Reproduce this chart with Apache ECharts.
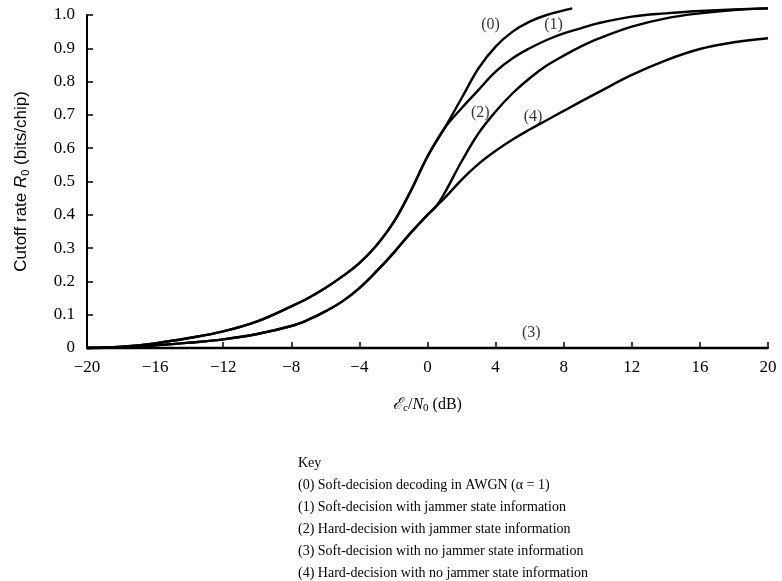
<!DOCTYPE html>
<html>
<head>
<meta charset="utf-8">
<script src="https://cdn.jsdelivr.net/npm/echarts@6/dist/echarts.min.js"></script>
<style>html,body{margin:0;padding:0;background:#fff}#c{width:782px;height:581px}</style>
</head>
<body>
<div id="c"></div>
<script>
// Shared rising part of curves (0) and (1)
var xUpper = [-20,-18,-16,-14,-12,-10,-8,-7,-6,-5,-4,-3,-2,-1,0,1];
var yUpper = [0,0.004,0.014,0.03,0.05,0.08,0.125,0.15,0.18,0.215,0.255,0.308,0.377,0.47,0.575,0.66];
// Curve (0) after split
var x0 = [2,3,4,5,6,7,8.5];
var y0 = [0.75,0.84,0.905,0.95,0.98,1.0,1.02];
// Curve (1) after split
var x1 = [2,3,4,5,6,7,8,9,10,12,14,16,18,20];
var y1 = [0.72,0.775,0.83,0.87,0.9,0.925,0.945,0.96,0.975,0.995,1.005,1.012,1.017,1.02];
// Shared rising part of curves (2) and (4)
var xLower = [-20,-18,-16,-14,-12,-10,-8,-7,-6,-5,-4,-3,-2,-1,0,0.5];
var yLower = [0,0.002,0.008,0.016,0.026,0.042,0.066,0.085,0.11,0.14,0.18,0.23,0.285,0.345,0.4,0.425];
// Curve (2) after split
var x2 = [1,2,3,4,5,6,7,8,9,10,12,14,16,18,20];
var y2 = [0.465,0.56,0.645,0.71,0.765,0.81,0.848,0.878,0.905,0.928,0.965,0.99,1.005,1.015,1.02];
// Curve (4) after split
var x4 = [1,2,3,4,5,6,7,8,9,10,12,14,16,18,20];
var y4 = [0.45,0.505,0.553,0.592,0.626,0.656,0.684,0.712,0.74,0.767,0.82,0.864,0.898,0.918,0.93];
// Curve (3): zero everywhere
var x3 = [-20,-16,-12,-8,-4,0,4,8,12,16,20];
var y3 = [0,0,0,0,0,0,0,0,0,0,0];

var curveTags = ['(0)','(1)','(2)','(3)','(4)'];
var curveTagX = [3.7,7.4,3.1,6.1,6.2];
var curveTagY = [0.97,0.97,0.705,0.045,0.695];

var keyTitle = 'Key';
var keyLines = [
  '(0) Soft-decision decoding in AWGN (\u03b1 = 1)',
  '(1) Soft-decision with jammer state information',
  '(2) Hard-decision with jammer state information',
  '(3) Soft-decision with no jammer state information',
  '(4) Hard-decision with no jammer state information'
];

var xTicks = [-20,-16,-12,-8,-4,0,4,8,12,16,20];
var yTicks = [0,0.1,0.2,0.3,0.4,0.5,0.6,0.7,0.8,0.9,1.0];

function zip(a,b){return a.map(function(v,i){return [v,b[i]];});}
function join(xa,ya,xb,yb){return zip(xa.concat(xb), ya.concat(yb));}

var serif = 'Liberation Serif';
var sans = 'Liberation Sans';
var lineStyle = {color:'#000', width:2.4};

function lineSeries(name, data){
  return {name:name, type:'line', data:data, smooth:0.4, showSymbol:false,
    symbol:'none', clip:false, lineStyle:lineStyle, z:3, animation:false};
}

var chart = echarts.init(document.getElementById('c'), null, {renderer:'canvas'});
var graphics = [{type:'text', left:298, top:456, style:{text:keyTitle, font:'14px "'+serif+'"', fill:'#000'}}];
keyLines.forEach(function(t,i){
  graphics.push({type:'text', left:298, top:478 + i*22, style:{text:t, font:'14px "'+serif+'"', fill:'#000'}});
});

chart.setOption({
  animation:false,
  backgroundColor:'#fff',
  grid:{left:87, right:14, top:15, bottom:233},
  xAxis:{
    type:'value', min:-20, max:20, interval:4,
    axisLine:{onZero:false, lineStyle:{color:'#000', width:2}},
    axisTick:{inside:true, length:6, lineStyle:{color:'#000', width:1.5}},
    splitLine:{show:false},
    axisLabel:{color:'#000', fontFamily:serif, fontSize:17, margin:11,
      formatter:function(v){return xTicks.indexOf(v)>=0 ? (v<0 ? '\u2212'+Math.abs(v) : String(v)) : '';}},
    name:'{e|\u2130}{s|c}{n|/}{i|N}{s|0}{n| (dB)}',
    nameLocation:'middle', nameGap:47,
    nameTextStyle:{color:'#000', fontFamily:serif, fontSize:16,
      rich:{
        e:{fontFamily:serif, fontStyle:'italic', fontSize:16, color:'#000'},
        i:{fontFamily:serif, fontStyle:'italic', fontSize:16, color:'#000'},
        n:{fontFamily:serif, fontSize:16, color:'#000'},
        s:{fontFamily:serif, fontSize:11, color:'#000', verticalAlign:'bottom', padding:[8,0,0,0]}
      }}
  },
  yAxis:{
    type:'value', min:0, max:1, interval:0.1,
    axisLine:{show:true, onZero:false, lineStyle:{color:'#000', width:2}},
    axisTick:{show:true, inside:true, length:6, lineStyle:{color:'#000', width:1.5}},
    splitLine:{show:false},
    axisLabel:{color:'#000', fontFamily:serif, fontSize:17, margin:12,
      formatter:function(v){var r=Math.round(v*10)/10; return r===0 ? '0' : r.toFixed(1);}},
    name:'{n|Cutoff rate }{i|R}{s|0}{n| (bits/chip)}',
    nameLocation:'middle', nameGap:56, nameRotate:90,
    nameTextStyle:{color:'#000', fontFamily:sans, fontSize:17,
      rich:{
        n:{fontFamily:sans, fontSize:17, color:'#000'},
        i:{fontFamily:sans, fontStyle:'italic', fontSize:17, color:'#000'},
        s:{fontFamily:sans, fontSize:11, color:'#000', verticalAlign:'bottom', padding:[8,0,0,0]}
      }}
  },
  series:[
    lineSeries('(0)', join(xUpper,yUpper,x0,y0)),
    lineSeries('(1)', join(xUpper,yUpper,x1,y1)),
    lineSeries('(2)', join(xLower,yLower,x2,y2)),
    lineSeries('(3)', zip(x3,y3)),
    lineSeries('(4)', join(xLower,yLower,x4,y4)),
    {name:'tags', type:'scatter', symbolSize:0, silent:true, animation:false, clip:false,
      data:curveTags.map(function(t,i){return {value:[curveTagX[i],curveTagY[i]], name:t};}),
      label:{show:true, position:'inside', formatter:function(p){return p.name;},
        color:'#000', fontFamily:serif, fontSize:16}}
  ],
  graphic:graphics
});
</script>
</body>
</html>
